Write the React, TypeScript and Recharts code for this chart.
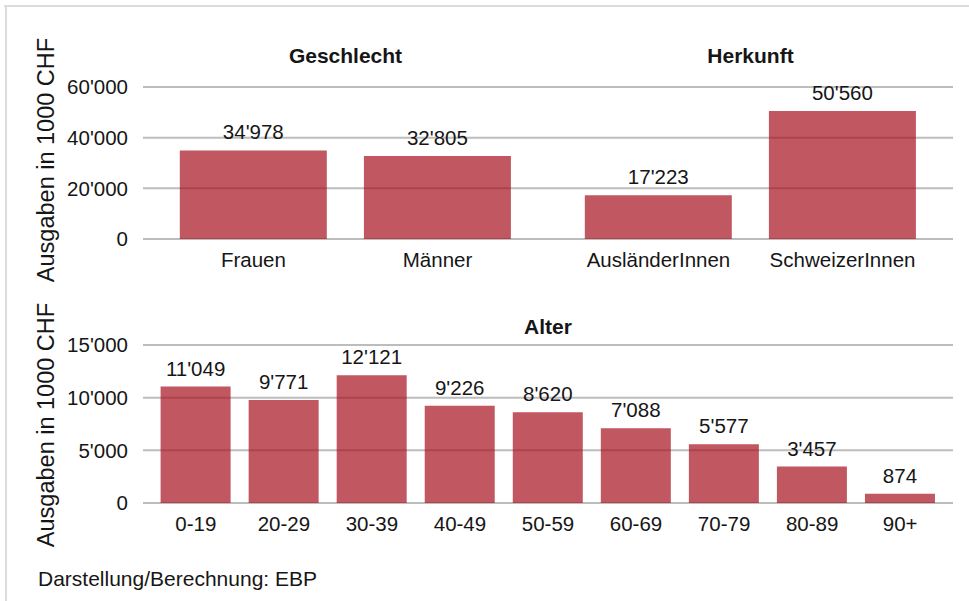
import React from "react";
import { BarChart, Bar, XAxis, YAxis, CartesianGrid, LabelList } from "recharts";

const sexCategories = ["Frauen", "Männer"];
const sexValues = [34978, 32805];
const originCategories = ["AusländerInnen", "SchweizerInnen"];
const originValues = [17223, 50560];
const ageCategories = ["0-19", "20-29", "30-39", "40-49", "50-59", "60-69", "70-79", "80-89", "90+"];
const ageValues = [11049, 9771, 12121, 9226, 8620, 7088, 5577, 3457, 874];
const topTicks = [0, 20000, 40000, 60000];
const bottomTicks = [0, 5000, 10000, 15000];

const FONT = '"Liberation Sans", Arial, Helvetica, sans-serif';
const TEXT = "#161616";
const GRID = "#bdbdbd";
const BAR = "#a60f1d";
const BAR_OPACITY = 0.7;

const fmt = (v: number) => String(v).replace(/\B(?=(\d{3})+(?!\d))/g, "'");

const toRows = (cats: string[], vals: number[]) => cats.map((c, i) => ({ name: c, value: vals[i] }));

const sexData = toRows(sexCategories, sexValues);
const originData = toRows(originCategories, originValues);
const ageData = toRows(ageCategories, ageValues);

const tickStyle = { fontSize: 20.5, fill: TEXT, fontFamily: FONT };
const labelStyle = { fontSize: 20.5, fill: TEXT, fontFamily: FONT };

export default function App() {
  return (
    <div style={{ position: "absolute", left: 0, top: 0, width: 969, height: 601, background: "#fff", fontFamily: FONT }}>
      <svg width={969} height={601} style={{ position: "absolute", left: 0, top: 0 }}>
        <line x1={4} y1={6} x2={969} y2={6} stroke="#dcdcdc" strokeWidth={2} />
        <line x1={6} y1={6} x2={6} y2={601} stroke="#dcdcdc" strokeWidth={2} />
        <text x={345.5} y={63.3} textAnchor="middle" fontWeight="bold" fontSize={21} fill={TEXT} fontFamily={FONT}>Geschlecht</text>
        <text x={750.5} y={63.3} textAnchor="middle" fontWeight="bold" fontSize={21} fill={TEXT} fontFamily={FONT}>Herkunft</text>
        <text x={548} y={334.3} textAnchor="middle" fontWeight="bold" fontSize={21} fill={TEXT} fontFamily={FONT}>Alter</text>
        <text x={54} y={160} transform="rotate(-90, 54, 160)" textAnchor="middle" fontSize={23.5} fill={TEXT} fontFamily={FONT}>Ausgaben in 1000 CHF</text>
        <text x={54} y={425} transform="rotate(-90, 54, 425)" textAnchor="middle" fontSize={23.5} fill={TEXT} fontFamily={FONT}>Ausgaben in 1000 CHF</text>
        <text x={38} y={586} fontSize={21} fill={TEXT} fontFamily={FONT}>Darstellung/Berechnung: EBP</text>
      </svg>

      <div style={{ position: "absolute", left: 0, top: 0 }}>
        <BarChart width={548} height={300} data={sexData} margin={{ top: 87, right: 0, bottom: 21, left: 0 }} barCategoryGap="10%">
          <CartesianGrid vertical={false} stroke={GRID} strokeWidth={2} />
          <XAxis dataKey="name" height={40} axisLine={false} tickLine={false} tickSize={0} tickMargin={13.4} tick={tickStyle} padding={{ left: 18.4, right: 18.4 }} interval={0} />
          <YAxis width={143} domain={[0, 60000]} ticks={topTicks} tickFormatter={fmt} axisLine={false} tickLine={false} tickSize={0} tickMargin={15} tick={tickStyle} />
          <Bar dataKey="value" fill={BAR} fillOpacity={BAR_OPACITY} isAnimationActive={false}>
            <LabelList dataKey="value" position="top" offset={11} formatter={(v: any) => fmt(Number(v))} style={labelStyle} />
          </Bar>
        </BarChart>
      </div>

      <div style={{ position: "absolute", left: 548, top: 0 }}>
        <BarChart width={421} height={300} data={originData} margin={{ top: 87, right: 16, bottom: 21, left: 0 }} barCategoryGap="10%">
          <CartesianGrid vertical={false} stroke={GRID} strokeWidth={2} />
          <XAxis dataKey="name" height={40} axisLine={false} tickLine={false} tickSize={0} tickMargin={13.4} tick={tickStyle} padding={{ left: 18.4, right: 18.4 }} interval={0} />
          <YAxis hide domain={[0, 60000]} ticks={topTicks} />
          <Bar dataKey="value" fill={BAR} fillOpacity={BAR_OPACITY} isAnimationActive={false}>
            <LabelList dataKey="value" position="top" offset={11} formatter={(v: any) => fmt(Number(v))} style={labelStyle} />
          </Bar>
        </BarChart>
      </div>

      <div style={{ position: "absolute", left: 0, top: 300 }}>
        <BarChart width={969} height={260} data={ageData} margin={{ top: 45, right: 16, bottom: 17, left: 0 }} barCategoryGap="10%">
          <CartesianGrid vertical={false} stroke={GRID} strokeWidth={2} />
          <XAxis dataKey="name" height={40} axisLine={false} tickLine={false} tickSize={0} tickMargin={13.4} tick={tickStyle} padding={{ left: 8.8, right: 8.8 }} interval={0} />
          <YAxis width={143} domain={[0, 15000]} ticks={bottomTicks} tickFormatter={fmt} axisLine={false} tickLine={false} tickSize={0} tickMargin={15} tick={tickStyle} />
          <Bar dataKey="value" fill={BAR} fillOpacity={BAR_OPACITY} isAnimationActive={false}>
            <LabelList dataKey="value" position="top" offset={11} formatter={(v: any) => fmt(Number(v))} style={labelStyle} />
          </Bar>
        </BarChart>
      </div>
    </div>
  );
}
